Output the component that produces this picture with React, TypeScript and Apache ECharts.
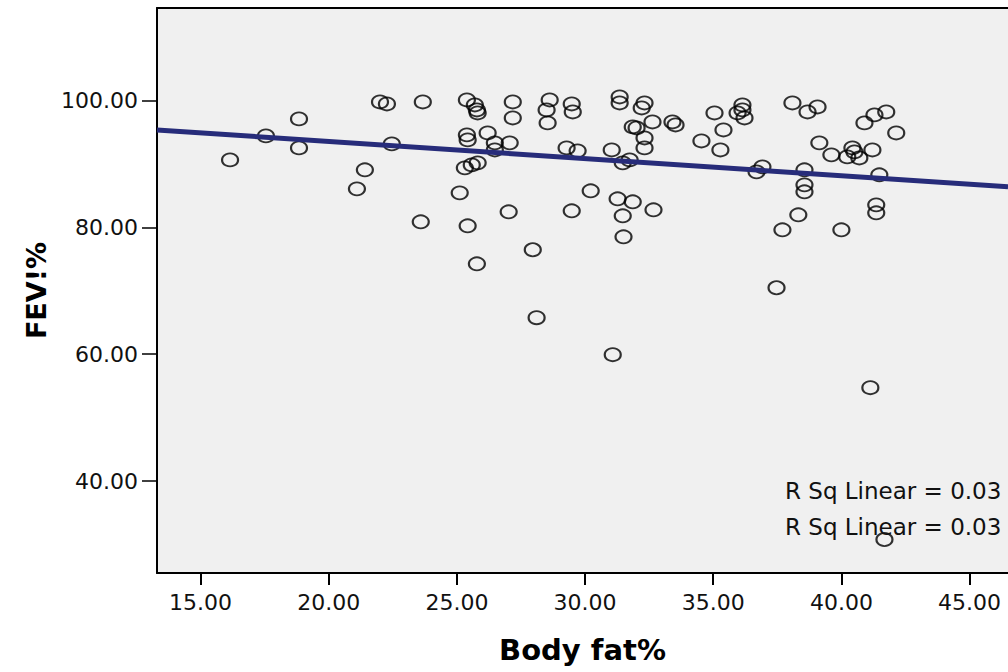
import React, { useEffect, useRef } from "react";
import * as echarts from "echarts";

const bodyFat = [
  16.15, 17.55, 18.84, 18.84, 21.1, 21.41, 22.0, 22.27, 22.46, 23.59,
  23.67, 25.39, 25.7, 25.78, 25.81, 27.18, 27.18, 25.39, 25.42, 26.2,
  26.48, 27.06, 26.48, 25.31, 25.58, 25.81, 25.11, 25.42, 25.78, 27.02,
  27.96, 28.11, 28.62, 28.5, 28.54, 29.48, 29.52, 29.28, 29.71, 30.22,
  29.48, 31.08, 31.35, 31.35, 32.32, 32.21, 31.86, 32.01, 32.63, 33.41,
  33.53, 32.32, 32.32, 31.04, 31.47, 31.74, 31.27, 31.86, 31.47, 32.67,
  31.5, 34.54, 35.05, 35.4, 35.28, 36.14, 36.14, 35.95, 36.22, 36.69,
  36.92, 37.47, 37.7, 38.32, 38.09, 38.68, 39.07, 39.14, 39.61, 38.56,
  38.56, 38.56, 40.0, 40.23, 40.43, 40.51, 40.7, 41.21, 40.9, 41.29,
  41.75, 42.14, 41.48, 41.36, 41.36, 41.13, 41.68,
];

const fev = [
  90.63, 94.41, 97.09, 92.52, 86.06, 89.06, 99.76, 99.45, 93.15, 80.87,
  99.76, 100.08, 99.29, 98.5, 98.03, 99.76, 97.24, 94.57, 93.78, 94.88,
  93.31, 93.31, 92.2, 89.37, 89.84, 90.16, 85.43, 80.24, 74.25, 82.44,
  76.46, 65.75, 100.08, 98.5, 96.46, 99.45, 98.19, 92.52, 92.05, 85.75,
  82.6, 59.92, 100.55, 99.61, 99.61, 98.82, 95.83, 95.67, 96.61, 96.61,
  96.14, 94.09, 92.52, 92.2, 90.16, 90.63, 84.49, 84.02, 81.81, 82.76,
  78.5, 93.62, 98.03, 95.35, 92.2, 99.29, 98.5, 98.03, 97.24, 88.74,
  89.53, 70.47, 79.61, 81.97, 99.61, 98.19, 98.98, 93.31, 91.42, 89.06,
  86.69, 85.59, 79.61, 91.1, 92.52, 91.89, 90.94, 92.2, 96.46, 97.72,
  98.19, 94.88, 88.27, 83.54, 82.28, 54.72, 30.79,
];

// Fit line (endpoints at the plot edges)
const fitX = [13.3, 46.5];
const fitY = [95.35, 86.38];

const xTicks = [15, 20, 25, 30, 35, 40, 45];
const yTicks = [40, 60, 80, 100];
const rsqLabels = ["R Sq Linear = 0.03", "R Sq Linear = 0.03"];

const FONT = "DejaVu Sans";

export default function App() {
  const ref = useRef<HTMLDivElement>(null);

  useEffect(() => {
    if (!ref.current) return;
    const chart = echarts.init(ref.current, null, { renderer: "svg" });
    const points = bodyFat.map((x, i) => [x, fev[i]]);
    const line = fitX.map((x, i) => [x, fitY[i]]);

    chart.setOption({
      animation: false,
      backgroundColor: "#ffffff",
      grid: {
        left: 157,
        top: 8,
        right: 0,
        bottom: 99,
        show: true,
        backgroundColor: "#f0f0f0",
        borderWidth: 0,
      },
      xAxis: [
        {
          type: "value",
          min: 13.3,
          max: 46.5,
          position: "bottom",
          name: "Body fat%",
          nameLocation: "middle",
          nameGap: 62,
          nameTextStyle: {
            fontFamily: FONT,
            fontWeight: "bold",
            fontSize: 29,
            color: "#000",
          },
          axisLine: { show: true, onZero: false, lineStyle: { color: "#000", width: 2 } },
          axisTick: {
            show: true,
            customValues: xTicks,
            length: 12,
            lineStyle: { color: "#000", width: 2 },
          },
          axisLabel: {
            customValues: xTicks,
            formatter: (v: number) => v.toFixed(2),
            fontFamily: FONT,
            fontSize: 22,
            color: "#111",
            margin: 18,
          },
          splitLine: { show: false },
        },
        {
          type: "value",
          min: 13.3,
          max: 46.5,
          position: "top",
          axisLine: { show: true, onZero: false, lineStyle: { color: "#000", width: 2 } },
          axisTick: { show: false },
          axisLabel: { show: false },
          splitLine: { show: false },
        },
      ],
      yAxis: {
        type: "value",
        min: 25.51,
        max: 114.57,
        name: "FEV!%",
        nameLocation: "middle",
        nameGap: 104,
        nameTextStyle: {
          fontFamily: FONT,
          fontWeight: "bold",
          fontSize: 27,
          color: "#000",
        },
        axisLine: { show: true, onZero: false, lineStyle: { color: "#000", width: 2 } },
        axisTick: {
          show: true,
          customValues: yTicks,
          length: 15,
          lineStyle: { color: "#000", width: 1.5 },
        },
        axisLabel: {
          customValues: yTicks,
          formatter: (v: number) => v.toFixed(2),
          fontFamily: FONT,
          fontSize: 22,
          color: "#111",
          margin: 19,
        },
        splitLine: { show: false },
      },
      series: [
        {
          type: "scatter",
          data: points,
          symbol: "circle",
          symbolSize: [16, 13],
          itemStyle: {
            color: "rgba(0,0,0,0)",
            borderColor: "#000",
            borderWidth: 2,
          },
          z: 2,
        },
        {
          type: "line",
          data: line,
          symbol: "none",
          lineStyle: { color: "#272c7a", width: 5 },
          z: 3,
        },
      ],
      graphic: rsqLabels.map((t, i) => ({
        type: "text",
        left: 785,
        top: 479 + i * 36,
        style: {
          text: t,
          fontFamily: FONT,
          fontSize: 23,
          fill: "#111",
        },
        z: 10,
      })),
    });

    return () => chart.dispose();
  }, []);

  return (
    <div
      ref={ref}
      style={{ position: "fixed", left: 0, top: 0, width: 1008, height: 672 }}
    />
  );
}
